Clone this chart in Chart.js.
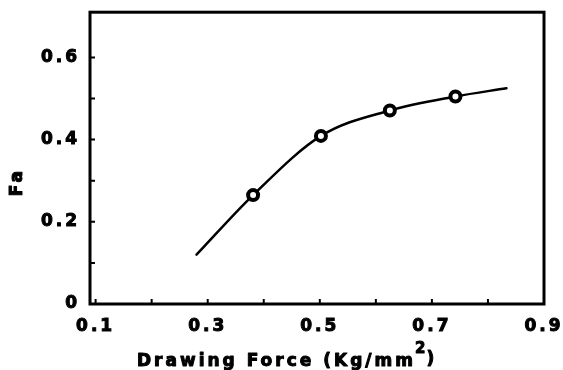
<!DOCTYPE html>
<html>
<head>
<meta charset="utf-8">
<script src="https://cdn.jsdelivr.net/npm/chart.js@4.4.1/dist/chart.umd.min.js"></script>
<style>
  body { margin: 0; background: #fff; }
  canvas { display: block; }
</style>
</head>
<body>
<canvas id="faChart" width="563" height="370"></canvas>
<script>
// measured points (circles)
const measuredForce = [0.381, 0.502, 0.625, 0.742];
const measuredFa = [0.265, 0.409, 0.471, 0.505];

// fitted curve
const fitForce = [0.28, 0.381, 0.502, 0.625, 0.742, 0.833];
const fitFa = [0.12, 0.265, 0.409, 0.471, 0.505, 0.525];

const xTicks = [0.1, 0.2, 0.3, 0.4, 0.5, 0.6, 0.7, 0.8, 0.9];
const xTickLabels = ["0.1", "", "0.3", "", "0.5", "", "0.7", "", "0.9"];
const yTicks = [0, 0.1, 0.2, 0.3, 0.4, 0.5, 0.6];
const yTickLabels = ["0", "", "0.2", "", "0.4", "", "0.6"];

const xTitleParts = ["Drawing Force (Kg/mm", "2", ")"];
const yTitle = "Fa";

const FONT = '"DejaVu Sans", sans-serif';
const SPACING = "3px";

// heavy text: fill plus a thin stroke
function heavyText(ctx, text, x, y) {
  ctx.fillText(text, x, y);
  ctx.strokeText(text, x, y);
}

// box frame, inward tick marks and the two axis titles
const frameAndTitles = {
  id: "frameAndTitles",
  beforeUpdate(chart) {
    chart.ctx.letterSpacing = SPACING;
  },
  beforeDraw(chart) {
    chart.ctx.letterSpacing = SPACING;
  },
  afterDraw(chart) {
    const { ctx, chartArea: a, scales } = chart;
    ctx.save();
    ctx.strokeStyle = "#000";
    ctx.lineWidth = 2;
    ctx.beginPath();
    xTicks.forEach((v) => {
      const px = scales.x.getPixelForValue(v);
      ctx.moveTo(px, a.bottom);
      ctx.lineTo(px, a.bottom - 5);
    });
    yTicks.forEach((v) => {
      const py = scales.y.getPixelForValue(v);
      ctx.moveTo(a.left, py);
      ctx.lineTo(a.left + 5, py);
    });
    ctx.stroke();

    ctx.lineWidth = 3;
    ctx.strokeRect(a.left, a.top, a.right - a.left, a.bottom - a.top);

    ctx.fillStyle = "#000";
    ctx.lineWidth = 1;
    ctx.lineJoin = "round";
    ctx.letterSpacing = SPACING;
    ctx.textBaseline = "alphabetic";
    ctx.textAlign = "left";
    ctx.font = "bold 17px " + FONT;
    let tx = a.left + 47;
    const ty = a.bottom + 62;
    heavyText(ctx, xTitleParts[0], tx, ty);
    tx += ctx.measureText(xTitleParts[0]).width - 1;
    ctx.font = "bold 15px " + FONT;
    heavyText(ctx, xTitleParts[1], tx, ty - 13);
    tx += ctx.measureText(xTitleParts[1]).width - 2;
    ctx.font = "bold 17px " + FONT;
    heavyText(ctx, xTitleParts[2], tx, ty - 2);

    ctx.translate(a.left - 72, (a.top + a.bottom) / 2 + 26);
    ctx.rotate(-Math.PI / 2);
    ctx.textAlign = "center";
    ctx.textBaseline = "middle";
    heavyText(ctx, yTitle, 2, 0);
    ctx.restore();
  },
};

const tickFont = { family: FONT, size: 17, weight: "bold" };

const ctx = document.getElementById("faChart").getContext("2d");

window.faChart = new Chart(ctx, {
  type: "scatter",
  data: {
    datasets: [
      {
        label: "measured",
        data: measuredForce.map((x, i) => ({ x: x, y: measuredFa[i] })),
        pointRadius: 5,
        pointBorderWidth: 4,
        pointBorderColor: "#000",
        pointBackgroundColor: "#fff",
        showLine: false,
      },
      {
        label: "fit",
        data: fitForce.map((x, i) => ({ x: x, y: fitFa[i] })),
        showLine: true,
        borderColor: "#000",
        borderWidth: 2.5,
        pointRadius: 0,
        cubicInterpolationMode: "monotone",
        borderCapStyle: "round",
      },
    ],
  },
  options: {
    responsive: false,
    animation: false,
    devicePixelRatio: 1,
    layout: { padding: { top: 8, right: 19, left: 0, bottom: 0 } },
    plugins: {
      legend: { display: false },
      tooltip: { enabled: false },
    },
    scales: {
      x: {
        type: "linear",
        min: 0.09,
        max: 0.9,
        afterBuildTicks: (s) => {
          s.ticks = xTicks.map((v) => ({ value: v }));
        },
        afterFit: (s) => {
          s.height = 66;
          s.paddingLeft = 0;
          s.paddingRight = 0;
        },
        grid: { display: false },
        border: { display: false },
        ticks: {
          color: "#000",
          font: tickFont,
          textStrokeColor: "#000",
          textStrokeWidth: 1,
          padding: 4,
          maxRotation: 0,
          autoSkip: false,
          callback: (v, i) => xTickLabels[i],
        },
      },
      y: {
        type: "linear",
        min: 0,
        max: 0.71,
        afterBuildTicks: (s) => {
          s.ticks = yTicks.map((v) => ({ value: v }));
        },
        afterFit: (s) => {
          s.width = 90;
        },
        grid: { display: false },
        border: { display: false },
        ticks: {
          color: "#000",
          font: tickFont,
          textStrokeColor: "#000",
          textStrokeWidth: 1,
          padding: 2,
          autoSkip: false,
          callback: (v, i) => yTickLabels[i],
        },
      },
    },
  },
  plugins: [frameAndTitles],
});
</script>
</body>
</html>
